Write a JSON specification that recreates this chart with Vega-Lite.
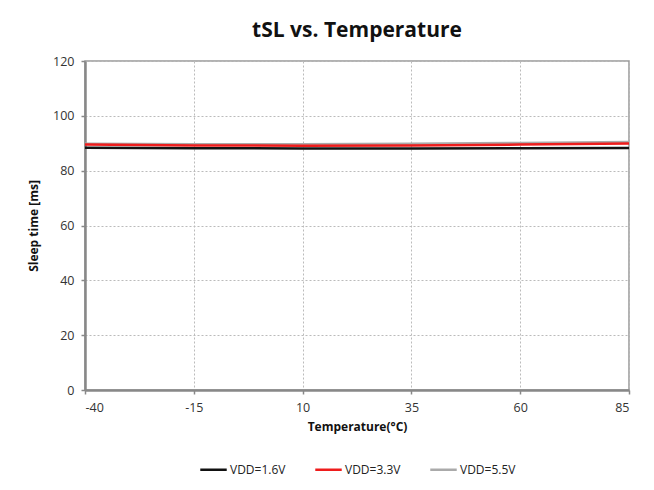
{
  "$schema": "https://vega.github.io/schema/vega-lite/v6.json",
  "autosize": "none",
  "width": 544,
  "height": 329,
  "padding": {"left": 85, "top": 61, "right": 25, "bottom": 100},
  "background": "white",
  "config": {
    "font": "Open Sans",
    "view": {"stroke": "#999999", "strokeWidth": 1.5},
    "legend": {"layout": {"bottom": {"anchor": "middle"}}}
  },
  "title": {
    "text": "tSL vs. Temperature",
    "fontSize": 21,
    "fontWeight": "bold",
    "font": "Open Sans",
    "color": "#111111",
    "anchor": "middle",
    "offset": 14
  },
  "data": {
    "values": [
      {"temp": -40, "ms": 89.8, "series": "VDD=5.5V"},
      {"temp": -15, "ms": 89.6, "series": "VDD=5.5V"},
      {"temp": 10, "ms": 89.6, "series": "VDD=5.5V"},
      {"temp": 35, "ms": 89.8, "series": "VDD=5.5V"},
      {"temp": 60, "ms": 90.1, "series": "VDD=5.5V"},
      {"temp": 85, "ms": 90.5, "series": "VDD=5.5V"},
      {"temp": -40, "ms": 89.5, "series": "VDD=3.3V"},
      {"temp": -15, "ms": 89.2, "series": "VDD=3.3V"},
      {"temp": 10, "ms": 89.1, "series": "VDD=3.3V"},
      {"temp": 35, "ms": 89.2, "series": "VDD=3.3V"},
      {"temp": 60, "ms": 89.5, "series": "VDD=3.3V"},
      {"temp": 85, "ms": 89.9, "series": "VDD=3.3V"},
      {"temp": -40, "ms": 88.4, "series": "VDD=1.6V"},
      {"temp": -15, "ms": 88.2, "series": "VDD=1.6V"},
      {"temp": 10, "ms": 88.1, "series": "VDD=1.6V"},
      {"temp": 35, "ms": 88.1, "series": "VDD=1.6V"},
      {"temp": 60, "ms": 88.2, "series": "VDD=1.6V"},
      {"temp": 85, "ms": 88.3, "series": "VDD=1.6V"}
    ]
  },
  "mark": {"type": "line", "strokeWidth": 2.5},
  "encoding": {
    "x": {
      "field": "temp",
      "type": "quantitative",
      "scale": {"domain": [-40, 85], "nice": false, "zero": false},
      "axis": {
        "values": [-40, -15, 10, 35, 60, 85],
        "labelExpr": "toString(datum.value)",
        "title": "Temperature(°C)",
        "titleFontSize": 12,
        "titleFontWeight": "bold",
        "titleColor": "#111111",
        "titlePadding": 8,
        "labelFontSize": 12.5,
        "labelColor": "#333333",
        "labelPadding": 7,
        "domainColor": "#888888",
        "domainWidth": 2.5,
        "tickColor": "#888888",
        "tickWidth": 1.5,
        "tickSize": 4,
        "gridColor": "#bbbbbb",
        "gridDash": [2, 2],
        "gridWidth": 1
      }
    },
    "y": {
      "field": "ms",
      "type": "quantitative",
      "scale": {"domain": [0, 120], "nice": false},
      "axis": {
        "values": [0, 20, 40, 60, 80, 100, 120],
        "title": "Sleep time [ms]",
        "titleFontSize": 12,
        "titleFontWeight": "bold",
        "titleColor": "#111111",
        "titlePadding": 12,
        "labelFontSize": 12.5,
        "labelColor": "#333333",
        "labelPadding": 7,
        "domainColor": "#888888",
        "domainWidth": 2.5,
        "tickColor": "#888888",
        "tickWidth": 1.5,
        "tickSize": 4,
        "gridColor": "#bbbbbb",
        "gridDash": [2, 2],
        "gridWidth": 1
      }
    },
    "color": {
      "field": "series",
      "type": "nominal",
      "scale": {
        "domain": ["VDD=1.6V", "VDD=3.3V", "VDD=5.5V"],
        "range": ["#111111", "#ee1c1c", "#aaaaaa"]
      },
      "legend": {
        "orient": "bottom",
        "direction": "horizontal",
        "title": null,
        "symbolType": "stroke",
        "symbolSize": 700,
        "symbolStrokeWidth": 2.5,
        "labelFontSize": 12,
        "labelColor": "#222222",
        "labelOffset": 2,
        "columnPadding": 24,
        "offset": 22
      }
    },
    "order": {"field": "series", "sort": "descending"}
  }
}
